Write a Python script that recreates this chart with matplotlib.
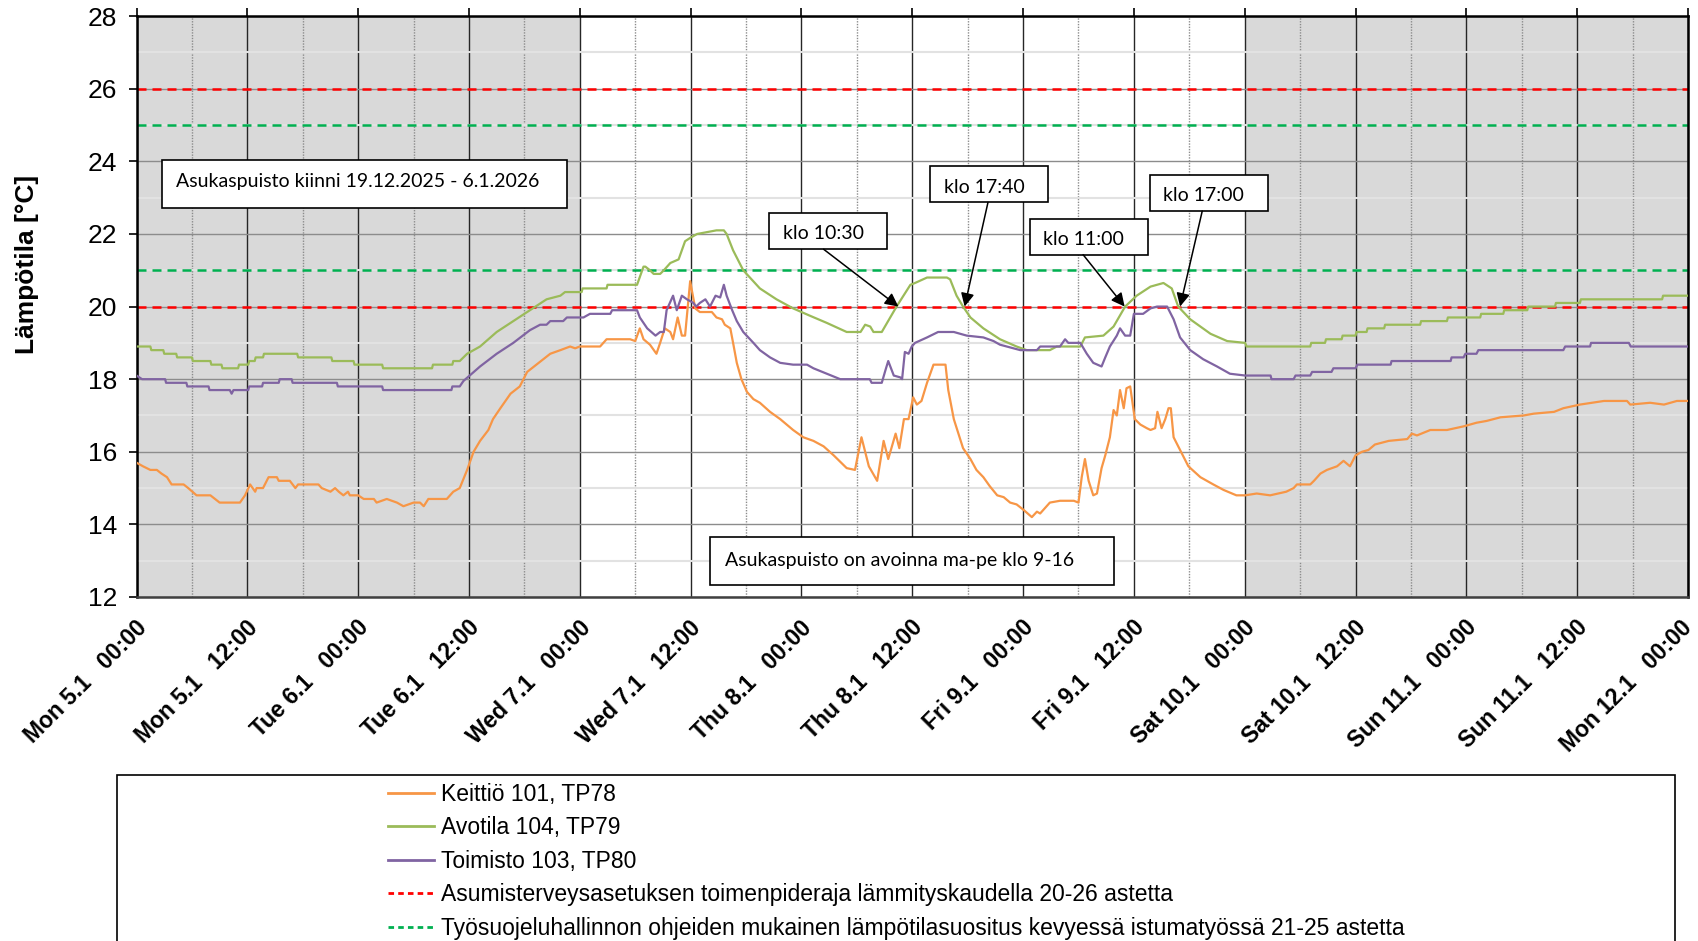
import matplotlib
matplotlib.use("Agg")
import matplotlib.pyplot as plt
from matplotlib.lines import Line2D
from matplotlib.patches import Rectangle
from matplotlib.ticker import MultipleLocator
from matplotlib.transforms import ScaledTranslation, blended_transform_factory

plt.rcParams['font.family'] = ['Liberation Sans', 'DejaVu Sans']

# hours from Mon 5.1 00:00
tick_labels = ["Mon 5.1   00:00", "Mon 5.1   12:00", "Tue 6.1   00:00", "Tue 6.1   12:00",
               "Wed 7.1   00:00", "Wed 7.1   12:00", "Thu 8.1   00:00", "Thu 8.1   12:00",
               "Fri 9.1   00:00", "Fri 9.1   12:00", "Sat 10.1   00:00", "Sat 10.1   12:00",
               "Sun 11.1   00:00", "Sun 11.1   12:00", "Mon 12.1   00:00"]
tick_hours = list(range(0, 169, 12))
closed_spans = [(0, 48), (120, 168)]

orange_h = [0, 0.7, 1.5, 2.2, 2.7, 3.3, 3.8, 5.1, 5.6, 6.5, 8.0, 9.0, 11.2, 11.75, 12.3, 12.85, 13.0, 13.7,
            14.3, 15.2, 15.4, 16.6, 17.2, 17.5, 19.7, 20.05, 21.0, 21.5, 21.9, 22.4, 22.9, 23.1, 24.0, 24.6,
            25.7, 26.0, 27.1, 28.2, 28.9, 30.0, 30.7, 31.1, 31.6, 32.0, 33.6, 34.3, 35.0, 35.8, 36.5, 37.2,
            38.1, 38.6, 39.4, 40.5, 41.5, 42.3, 43.3, 44.8, 45.9, 46.95, 47.5, 48.0, 50.2, 50.9, 53.45, 54.0,
            54.5, 54.9, 55.6, 56.3, 56.7, 57.2, 57.8, 58.1, 58.6, 59.05, 59.4, 59.95, 60.5, 61.0, 62.3, 62.8,
            63.4, 63.7, 64.3, 64.6, 65.0, 65.5, 66.1, 66.8, 67.5, 68.6, 69.7, 71.1, 72.2, 73.3, 74.4, 75.5,
            76.9, 77.8, 78.5, 79.3, 80.2, 80.9, 81.4, 82.2, 82.6, 83.1, 83.6, 84.1, 84.5, 85.0, 85.6, 86.3,
            87.6, 87.9, 88.5, 89.5, 90.3, 90.95, 91.7, 92.4, 93.2, 93.9, 94.6, 95.3, 96.05, 96.95, 97.5,
            97.85, 98.9, 100.0, 101.5, 102.0, 102.35, 102.7, 103.1, 103.6, 104.0, 104.5, 104.9, 105.4,
            105.8, 106.15, 106.5, 106.9, 107.2, 107.6, 108.1, 108.7, 109.4, 109.8, 110.3, 110.55, 111.0,
            111.4, 111.75, 112.0, 112.3, 113.0, 113.9, 115.2, 116.6, 117.7, 119.1, 120.05, 121.3, 122.75,
            124.5, 125.3, 125.65, 127.1, 127.5, 128.2, 128.9, 130.0, 130.7, 131.4, 132.0, 132.7, 133.4,
            134.1, 135.6, 137.6, 138.1, 138.65, 140.1, 141.9, 143.7, 145.1, 146.2, 147.7, 150.2, 151.3,
            153.5, 154.5, 156.3, 158.9, 161.4, 161.75, 163.9, 165.4, 166.8, 168]
orange_t = [15.7, 15.6, 15.5, 15.5, 15.4, 15.3, 15.1, 15.1, 15.0, 14.8, 14.8, 14.6, 14.6, 14.8, 15.1, 14.9, 15.0, 15.0,
            15.3, 15.3, 15.2, 15.2, 15.0, 15.1, 15.1, 15.0, 14.9, 15.0, 14.9, 14.8, 14.9, 14.8, 14.8, 14.7,
            14.7, 14.6, 14.7, 14.6, 14.5, 14.6, 14.6, 14.5, 14.7, 14.7, 14.7, 14.9, 15.0, 15.5, 16.0, 16.3,
            16.6, 16.9, 17.2, 17.6, 17.8, 18.2, 18.4, 18.7, 18.8, 18.9, 18.85, 18.9, 18.9, 19.1, 19.1, 19.05,
            19.4, 19.1, 18.95, 18.7, 19.0, 19.4, 19.3, 19.1, 19.7, 19.2, 19.2, 20.7, 19.95, 19.85, 19.85, 19.7,
            19.65, 19.5, 19.4, 19.0, 18.45, 18.0, 17.65, 17.45, 17.35, 17.1, 16.9, 16.6, 16.4, 16.3, 16.15, 15.9,
            15.55, 15.5, 16.4, 15.6, 15.2, 16.3, 15.8, 16.5, 16.1, 16.9, 16.9, 17.5, 17.3, 17.4, 17.9, 18.4,
            18.4, 17.7, 16.9, 16.1, 15.8, 15.5, 15.3, 15.05, 14.8, 14.75, 14.6, 14.55, 14.4, 14.2, 14.35,
            14.3, 14.6, 14.65, 14.65, 14.6, 15.3, 15.8, 15.2, 14.8, 14.85, 15.55, 15.9, 16.4,
            17.15, 17.0, 17.7, 17.2, 17.75, 17.8, 16.9, 16.75, 16.65, 16.6, 16.65, 17.1, 16.65,
            16.9, 17.2, 17.2, 16.4, 16.05, 15.6, 15.3, 15.1, 14.95, 14.8, 14.8, 14.85, 14.8,
            14.9, 15.0, 15.1, 15.1, 15.2, 15.4, 15.5, 15.6, 15.75, 15.6, 15.9, 16.0, 16.05,
            16.2, 16.3, 16.35, 16.5, 16.45, 16.6, 16.6, 16.7, 16.8, 16.85, 16.95, 17.0, 17.05,
            17.1, 17.2, 17.3, 17.4, 17.4, 17.3, 17.35, 17.3, 17.4, 17.4]

green_h = [0, 1.5, 1.6, 2.9, 3.0, 4.3, 4.4, 6.0, 6.1, 8.0, 8.1, 9.2, 9.3, 11.0, 11.1, 12.1, 12.2, 12.8, 12.9,
           13.7, 13.8, 17.4, 17.5, 21.1, 21.2, 23.5, 23.6, 26.6, 26.7, 32.0, 32.1, 34.2, 34.3, 35.0, 35.8,
           37.2, 39.0, 40.8, 42.6, 44.4, 45.9, 46.4, 48.2, 48.3, 50.9, 51.0, 54.2, 54.9, 55.1, 55.6, 56.0,
           56.7, 57.1, 57.8, 58.7, 59.4, 60.0, 60.7, 62.8, 63.6, 63.9, 64.6, 65.7, 67.5, 69.3, 71.1, 72.9,
           74.75, 76.9, 78.4, 78.9, 79.45, 79.8, 80.7, 82.3, 83.8, 84.3, 85.6, 87.75, 88.1, 88.8, 89.5,
           90.3, 91.7, 93.5, 95.3, 96.4, 98.9, 99.65, 102.2, 102.7, 104.7, 105.8, 107.05, 108.3, 109.8,
           111.2, 112.1, 112.8, 114.1, 116.3, 118.1, 120.05, 120.2, 127.1, 127.2, 128.7, 128.8, 130.5,
           130.6, 132.0, 132.1, 133.2, 133.3, 135.1, 135.2, 139.0, 139.1, 141.9, 142.0, 145.5, 145.6,
           148.0, 148.1, 150.6, 150.7, 153.6, 153.7, 156.3, 156.4, 165.2, 165.3, 168]
green_t = [18.9, 18.9, 18.8, 18.8, 18.7, 18.7, 18.6, 18.6, 18.5, 18.5, 18.4, 18.4, 18.3, 18.3, 18.4, 18.4, 18.5, 18.5, 18.6,
           18.6, 18.7, 18.7, 18.6, 18.6, 18.5, 18.5, 18.4, 18.4, 18.3, 18.3, 18.4, 18.4, 18.5, 18.5, 18.7,
           18.9, 19.3, 19.6, 19.9, 20.2, 20.3, 20.4, 20.4, 20.5, 20.5, 20.6, 20.6, 21.1, 21.1, 21.0, 20.9,
           20.9, 21.0, 21.2, 21.3, 21.8, 21.9, 22.0, 22.1, 22.1, 22.0, 21.55, 21.0, 20.5, 20.2, 19.95, 19.75,
           19.55, 19.3, 19.3, 19.5, 19.45, 19.3, 19.3, 20.0, 20.6, 20.65, 20.8, 20.8, 20.75, 20.3, 20.0,
           19.7, 19.4, 19.1, 18.9, 18.8, 18.8, 18.9, 18.9, 19.15, 19.2, 19.45, 20.0, 20.3, 20.55,
           20.65, 20.5, 20.0, 19.65, 19.25, 19.05, 19.0, 18.9, 18.9, 19.0, 19.0, 19.1, 19.1,
           19.2, 19.2, 19.3, 19.3, 19.4, 19.4, 19.5, 19.5, 19.6, 19.6, 19.7, 19.7, 19.8,
           19.8, 19.9, 19.9, 20.0, 20.0, 20.1, 20.1, 20.2, 20.2, 20.3, 20.3]

purple_h = [0, 0.6, 3.1, 3.2, 5.4, 5.5, 7.8, 7.9, 10.1, 10.3, 10.5, 12.1, 12.2, 13.6, 13.7, 15.4, 15.5, 16.8,
            16.9, 21.7, 21.8, 26.6, 26.7, 34.1, 34.2, 35.0, 35.4, 37.2, 39.0, 40.8, 42.6, 43.7, 44.4, 44.8,
            46.2, 46.6, 48.4, 49.1, 51.3, 51.5, 54.2, 54.5, 55.3, 56.2, 56.7, 57.1, 57.4, 58.1, 58.5, 59.05,
            59.6, 60.3, 60.6, 61.0, 61.6, 62.1, 62.7, 63.2, 63.6, 63.9, 64.5, 65.0, 65.7, 66.8, 67.5, 68.6,
            69.7, 71.1, 72.6, 73.3, 74.75, 76.2, 79.4, 79.6, 80.7, 81.1, 81.4, 82.0, 82.7, 82.9, 83.2, 83.6,
            83.95, 84.3, 85.6, 86.8, 88.5, 89.9, 91.7, 92.8, 93.5, 95.7, 97.5, 97.85, 100.0, 100.55, 100.9,
            102.2, 102.9, 103.6, 104.5, 104.9, 105.4, 106.15, 106.5, 107.05, 107.6, 108.0, 109.0, 109.8,
            110.5, 111.6, 112.3, 113.0, 114.1, 115.5, 117.0, 118.4, 120.05, 122.8, 122.9, 125.3, 125.5,
            127.1, 127.3, 129.4, 129.6, 132.0, 132.2, 135.8, 135.9, 142.3, 142.4, 143.7, 143.9, 145.1,
            145.3, 154.5, 154.7, 157.4, 157.5, 161.6, 161.8, 168]
purple_t = [18.1, 18.0, 18.0, 17.9, 17.9, 17.8, 17.8, 17.7, 17.7, 17.6, 17.7, 17.7, 17.8, 17.8, 17.9, 17.9, 18.0, 18.0,
            17.9, 17.9, 17.8, 17.8, 17.7, 17.7, 17.8, 17.8, 17.95, 18.35, 18.7, 19.0, 19.35, 19.5, 19.5, 19.6,
            19.6, 19.7, 19.7, 19.8, 19.8, 19.9, 19.9, 19.7, 19.4, 19.2, 19.3, 19.3, 19.9, 20.3, 19.9, 20.3,
            20.2, 20.1, 20.0, 20.1, 20.2, 20.0, 20.3, 20.25, 20.6, 20.3, 19.9, 19.6, 19.3, 19.0, 18.8, 18.6,
            18.45, 18.4, 18.4, 18.3, 18.15, 18.0, 18.0, 17.9, 17.9, 18.25, 18.5, 18.1, 18.05, 18.0, 18.75, 18.7,
            18.9, 19.0, 19.15, 19.3, 19.3, 19.2, 19.15, 19.05, 18.95, 18.8, 18.8, 18.9, 18.9, 19.1, 19.0,
            19.0, 18.7, 18.45, 18.35, 18.6, 18.9, 19.2, 19.4, 19.2, 19.2, 19.8, 19.8, 19.95,
            20.0, 20.0, 19.65, 19.15, 18.8, 18.55, 18.35, 18.15, 18.1, 18.1, 18.0, 18.0, 18.1,
            18.1, 18.2, 18.2, 18.3, 18.3, 18.4, 18.4, 18.5, 18.5, 18.6, 18.6, 18.7, 18.7,
            18.8, 18.8, 18.9, 18.9, 19.0, 19.0, 18.9, 18.9]

series = [
    ("Keittiö 101, TP78", orange_h, orange_t, "#f79646"),
    ("Avotila 104, TP79", green_h, green_t, "#9bbb59"),
    ("Toimisto 103, TP80", purple_h, purple_t, "#8064a2"),
]
limit_red = [20, 26]
limit_green = [21, 25]
limit_labels = ["Asumisterveysasetuksen toimenpideraja lämmityskaudella 20-26 astetta",
                "Työsuojeluhallinnon ohjeiden mukainen lämpötilasuositus kevyessä istumatyössä 21-25 astetta"]

# (label, time of crossing in hours, box corner, arrow start)
callouts = [
    ("klo 10:30", 82.5, (68.5, 21.58), (74.4, 21.58)),
    ("klo 17:40", 89.67, (85.9, 22.87), (92.2, 22.87)),
    ("klo 11:00", 107.0, (96.7, 21.43), (102.5, 21.43)),
    ("klo 17:00", 113.0, (109.7, 22.63), (115.4, 22.63)),
]

fig = plt.figure(figsize=(16.98, 9.41), dpi=100)
ax = fig.add_axes([0.0804, 0.3656, 0.9137, 0.6172])

for a, b in closed_spans:
    ax.axvspan(a, b, color="#d9d9d9", zorder=0.2, lw=0)

ax.set_xlim(0, 168)
ax.set_ylim(12, 28)
ax.xaxis.set_major_locator(MultipleLocator(12))
ax.xaxis.set_minor_locator(MultipleLocator(6))
ax.yaxis.set_major_locator(MultipleLocator(2))
ax.yaxis.set_minor_locator(MultipleLocator(1))
ax.grid(which="major", axis="x", color="#262626", lw=1.0, zorder=0.5)
ax.grid(which="minor", axis="x", color="#8c8c8c", lw=1.0, ls=(0, (1, 1)), zorder=0.5)
ax.grid(which="major", axis="y", color="#8c8c8c", lw=1.0, zorder=0.5)
ax.grid(which="minor", axis="y", color="#e2e2e2", lw=1.5, zorder=0.5)
ax.set_axisbelow(True)

for name, h, t, c in series:
    ax.plot(h, t, color=c, lw=1.6, zorder=3)
for v in limit_red:
    ax.axhline(v, color="#ff0000", lw=1.8, ls=(0, (3.6, 2.4)), zorder=2.5)
for v in limit_green:
    ax.axhline(v, color="#00b050", lw=1.8, ls=(0, (3.6, 2.4)), zorder=2.5)

# x labels drawn as texts below the axis (ticks on the top edge)
ax.set_xticks(tick_hours)
ax.set_xticklabels([])
ax.tick_params(axis="x", which="both", bottom=False, top=True, direction="out", length=6,
               width=1.2, labelbottom=False, labeltop=False)
ax.tick_params(axis="x", which="minor", top=False)
xtrans = blended_transform_factory(ax.transData, ax.transAxes)
for i, (hr, lab) in enumerate(zip(tick_hours, tick_labels)):
    dx = -8 if i == len(tick_hours) - 1 else -1
    off = ScaledTranslation(dx / 100, -19 / 100, fig.dpi_scale_trans)
    ax.text(hr, 0, lab, transform=xtrans + off, rotation=45, rotation_mode="anchor",
            ha="right", va="top", fontsize=16.5, fontweight="bold", clip_on=False)

ax.tick_params(axis="y", which="major", direction="out", length=6, width=1.2, labelsize=19, pad=8)
ax.tick_params(axis="y", which="minor", left=False)
for s in ax.spines.values():
    s.set_linewidth(1.8)
    s.set_color("black")
ax.spines["bottom"].set_color("#404040")

fig.text(27 / 1698, 1 - 264 / 941, "Lämpötila [°C]", rotation=90, ha="center", va="center",
         fontsize=19, fontweight="bold")

# text boxes
box_font = ["Lato", "DejaVu Sans"]


def text_box(x0, y0, w, h, txt, tx, ty, size):
    ax.add_patch(Rectangle((x0, y0), w, h, facecolor="white", edgecolor="black", lw=1.2, zorder=5))
    ax.text(tx, ty, txt, family=box_font, fontsize=size, va="center", ha="left", zorder=6)


text_box(2.8, 22.72, 43.8, 1.31, "Asukaspuisto kiinni 19.12.2025 - 6.1.2026", 4.3, 23.44, 14)
text_box(62.05, 12.33, 43.85, 1.31, "Asukaspuisto on avoinna ma-pe klo 9-16", 63.7, 13.0, 14)

for txt, when, (bx, by), start in callouts:
    text_box(bx, by, 12.8, 0.99, txt, bx + 1.5, by + 0.42, 14)
    ax.annotate("", xy=(when, limit_red[0]), xytext=start,
                arrowprops=dict(arrowstyle="-|>", color="black", lw=1.1, mutation_scale=20,
                                shrinkA=0, shrinkB=0), zorder=7)

# legend frame
fig.patches.append(Rectangle((117 / 1698, -0.05), (1675 - 117) / 1698, 0.05 + 1 - 775 / 941,
                             transform=fig.transFigure, facecolor="white", edgecolor="black", lw=1.2))
handles = [Line2D([], [], color=c, lw=2) for _, _, _, c in series]
handles.append(Line2D([], [], color="#ff0000", lw=2, ls=(0, (2, 1.5))))
handles.append(Line2D([], [], color="#00b050", lw=2, ls=(0, (2, 1.5))))
labels = [s[0] for s in series] + limit_labels
fig.legend(handles, labels, loc="upper left", bbox_to_anchor=(388 / 1698, 1 - 783 / 941),
           frameon=False, fontsize=16.5, handlelength=2.0, handletextpad=0.3, labelspacing=0.455,
           borderpad=0, borderaxespad=0)

fig.savefig("out.png", dpi=100, facecolor="white")
